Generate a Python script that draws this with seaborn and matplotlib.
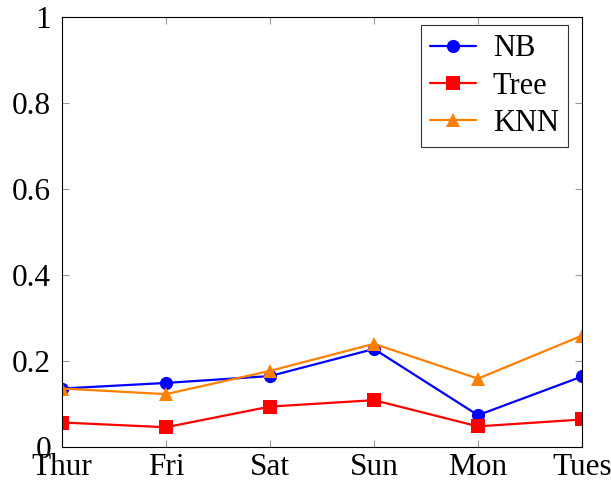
import pandas as pd
import matplotlib
matplotlib.use('Agg')
import matplotlib.pyplot as plt
import seaborn as sns


# Values
days = ['Thur', 'Fri', 'Sat', 'Sun', 'Mon', 'Tues']
nb = [0.136, 0.149, 0.165, 0.228, 0.074, 0.164]
tree = [0.057, 0.046, 0.094, 0.109, 0.048, 0.064]
knn = [0.136, 0.123, 0.177, 0.240, 0.159, 0.259]
y_ticks = [0, 0.2, 0.4, 0.6, 0.8, 1]
y_tick_labels = ['0', '0.2', '0.4', '0.6', '0.8', '1']

#---------

df = pd.DataFrame({
    'day': days * 3,
    'value': nb + tree + knn,
    'model': ['NB'] * 6 + ['Tree'] * 6 + ['KNN'] * 6,
})
df['pos'] = df['day'].map({d: i for i, d in enumerate(days)})

sns.set_style('white')
plt.rcParams['font.family'] = ['Liberation Serif', 'DejaVu Serif']
plt.rcParams['text.color'] = 'black'

palette = {'NB': '#0000ff', 'Tree': '#ff0000', 'KNN': '#ff8000'}
markers = {'NB': 'o', 'Tree': 's', 'KNN': '^'}

fig = plt.figure(figsize=(6.11, 4.87), dpi=100)
ax = fig.add_axes([0.1015, 0.0821, 0.851, 0.883])

sns.lineplot(data=df, x='pos', y='value', hue='model', style='model',
             palette=palette, markers=markers, dashes=False,
             hue_order=['NB', 'Tree', 'KNN'], style_order=['NB', 'Tree', 'KNN'],
             linewidth=1.6, markersize=9.5, markeredgewidth=0, ax=ax)

ax.set_xlim(0, len(days) - 1)
ax.set_ylim(0, 1)
ax.set_xticks(range(len(days)))
ax.set_xticklabels(days)
ax.set_yticks(y_ticks)
ax.set_yticklabels(y_tick_labels)
ax.set_xlabel('')
ax.set_ylabel('')

ax.tick_params(axis='both', which='both', direction='in', length=5, width=0.8,
               color='#999999', labelsize=22.5, labelcolor='black', top=True,
               right=True, bottom=True, left=True)
ax.tick_params(axis='x', pad=4)
ax.tick_params(axis='y', pad=8)
for side in ax.spines.values():
    side.set_color('black')
    side.set_linewidth(0.8)

handles, labels = ax.get_legend_handles_labels()
leg = ax.legend(handles, labels, loc='upper right', fontsize=22, frameon=True,
                fancybox=False, framealpha=1, edgecolor='#333333',
                handlelength=1.5, handletextpad=0.55, borderpad=0.3,
                labelspacing=0.27, borderaxespad=0,
                bbox_to_anchor=(0.973, 0.981))
leg.get_frame().set_linewidth(0.8)

plt.savefig('out.png', dpi=100)
